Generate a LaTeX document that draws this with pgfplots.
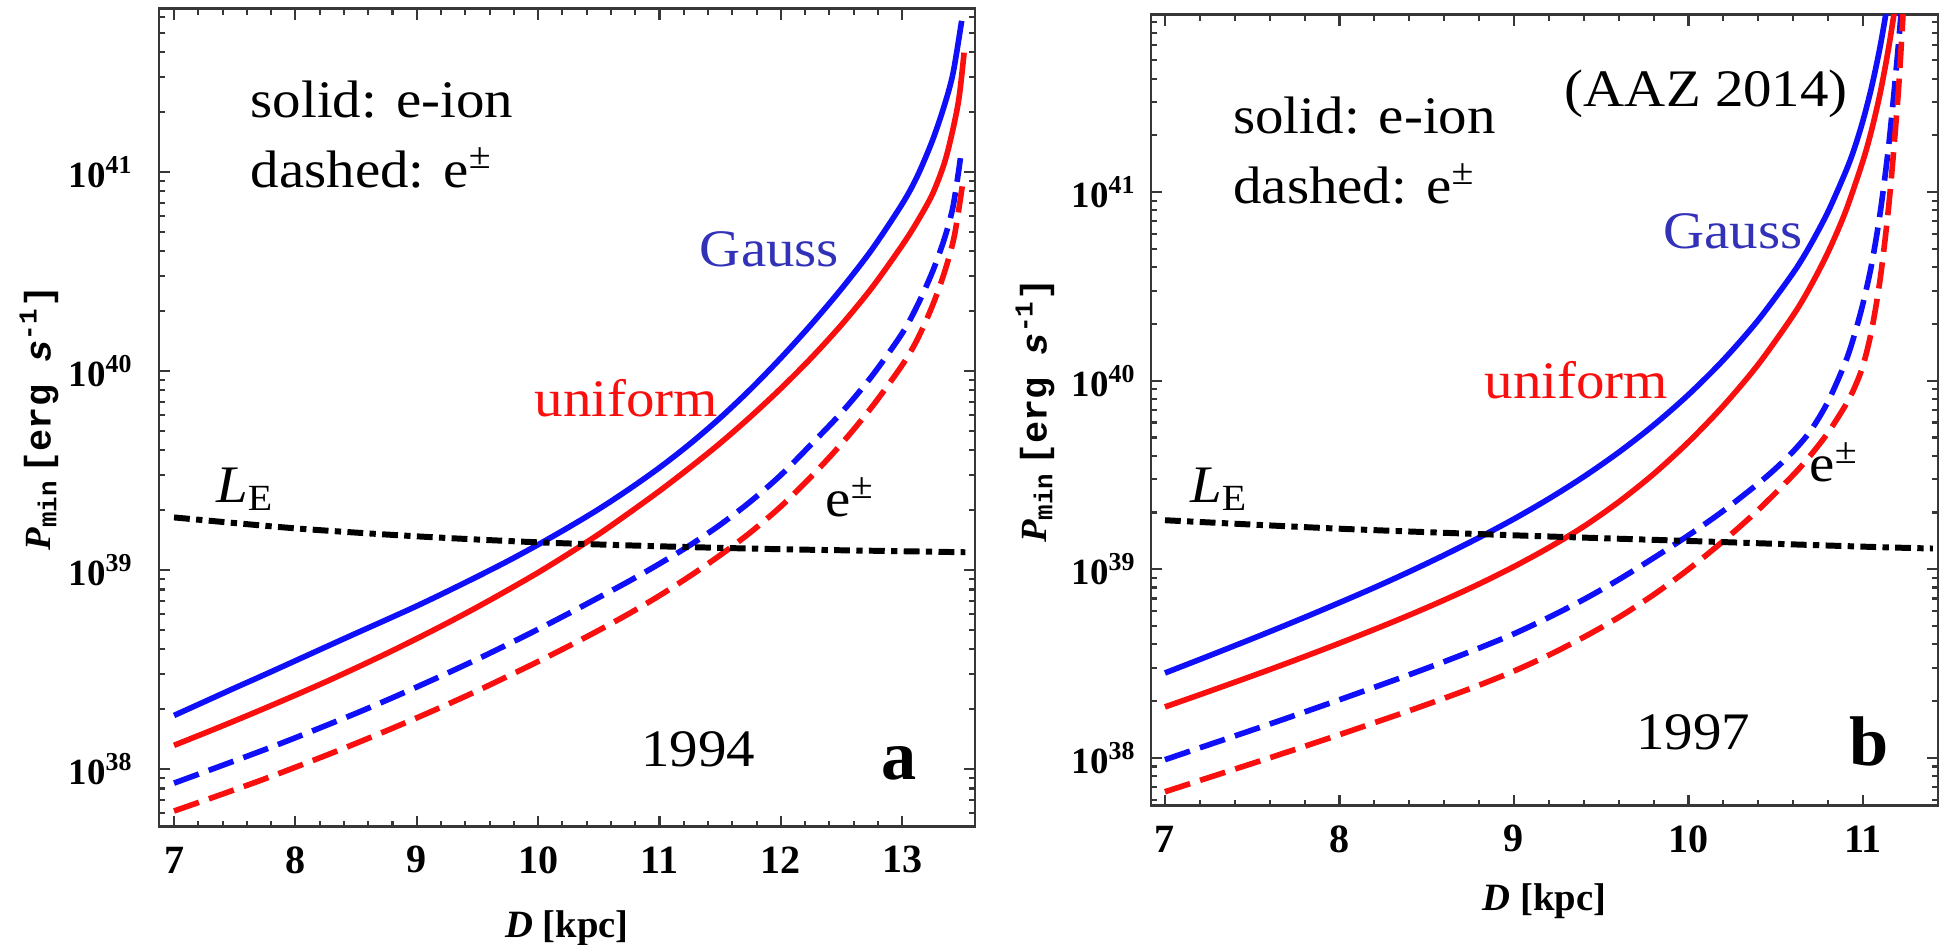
\documentclass[border=0pt]{standalone}
\usepackage{fontspec}
\setmainfont{Liberation Serif}
\setmonofont{Liberation Mono}
\newfontfamily\annfont[FakeStretch=1.08]{Liberation Serif}
\usepackage{pgfplots}
\pgfplotsset{compat=1.18}
\definecolor{lblue}{RGB}{15,15,250}
\definecolor{lred}{RGB}{250,15,15}
\definecolor{gtext}{RGB}{50,50,185}
\definecolor{framec}{RGB}{55,55,55}

\tikzset{
  dshp/.style={dash pattern=on 7.5pt off 3pt},
  ledp/.style={black, line width=1.7pt, dash pattern=on 4.5pt off 1.8pt on 1.8pt off 1.8pt},
  annp/.style={anchor=base west, inner sep=0pt, font=\annfont\fontsize{15}{17}\selectfont},
  bigl/.style={anchor=base west, inner sep=0pt, font=\fontsize{20}{22}\selectfont\bfseries},
}

\begin{document}
\begin{tikzpicture}[x=1cm,y=1cm]
\useasboundingbox (0,0) rectangle (19.46,9.45);

% ---------------- panel a ----------------
\begin{axis}[
  scale only axis,
  at={(1.59cm,1.18cm)}, anchor=south west,
  width=8.16cm, height=8.18cm,
  axis line style={framec, line width=0.8pt},
  every tick/.style={framec, line width=0.6pt},
  major tick length=0.11cm,
  minor tick length=0.06cm,
  tick align=inside,
  ymode=log,
  xmin=6.876, xmax=13.6,
  ymin=5.13e37, ymax=6.607e41,
  xtick={7,8,9,10,11,12,13},
  xticklabels={7,8,9,10,11,12,13},
  minor x tick num=4,
  ytick={1e38,1e39,1e40,1e41},
  yticklabels={10\textsuperscript{38},10\textsuperscript{39},10\textsuperscript{40},10\textsuperscript{41}},
  minor ytick={6e37,7e37,8e37,9e37,2e38,3e38,4e38,5e38,6e38,7e38,8e38,9e38,2e39,3e39,4e39,5e39,6e39,7e39,8e39,9e39,2e40,3e40,4e40,5e40,6e40,7e40,8e40,9e40,2e41,3e41,4e41,5e41,6e41},
  xticklabel style={font=\fontsize{11.4}{13}\selectfont\bfseries, anchor=center, inner sep=0pt, yshift=-0.33cm},
  yticklabel style={font=\fontsize{10.5}{12}\selectfont\bfseries, anchor=east, inner sep=0pt, xshift=-0.25cm},
  xlabel={{\bfseries\itshape D} {\bfseries [kpc]}},
  ylabel={{\bfseries\itshape P}\textsubscript{\ttfamily\bfseries min}\,{\ttfamily\bfseries [erg\ {\itshape s}\textsuperscript{-1}]}},
  xlabel style={font=\fontsize{11}{13}\selectfont, anchor=center, at={(rel axis cs:0.5,-0.1235)}},
  ylabel style={font=\fontsize{10.5}{12}\selectfont, anchor=center, at={(rel axis cs:-0.147,0.5)}},
]
\addplot[lblue, line width=1.6pt, smooth] coordinates {(7.00,1.862e38)(7.25,2.183e38)(7.50,2.559e38)(7.75,2.992e38)(8.00,3.507e38)(8.25,4.112e38)(8.50,4.819e38)(8.75,5.636e38)(9.00,6.607e38)(9.25,7.816e38)(9.50,9.290e38)(9.75,1.111e39)(10.00,1.343e39)(10.25,1.641e39)(10.50,2.027e39)(10.75,2.553e39)(11.00,3.274e39)(11.25,4.305e39)(11.50,5.821e39)(11.75,8.109e39)(12.00,1.164e40)(12.25,1.714e40)(12.50,2.594e40)(12.75,4.083e40)(13.00,6.918e40)(13.125,9.550e40)(13.25,1.445e41)(13.35,2.188e41)(13.42,3.162e41)(13.49,5.754e41)};
\addplot[lred, line width=1.6pt, smooth] coordinates {(7.00,1.318e38)(7.25,1.517e38)(7.50,1.750e38)(7.75,2.027e38)(8.00,2.355e38)(8.25,2.748e38)(8.50,3.228e38)(8.75,3.811e38)(9.00,4.529e38)(9.25,5.419e38)(9.50,6.531e38)(9.75,7.943e38)(10.00,9.726e38)(10.25,1.208e39)(10.50,1.517e39)(10.75,1.940e39)(11.00,2.500e39)(11.25,3.274e39)(11.50,4.345e39)(11.75,5.902e39)(12.00,8.184e39)(12.25,1.164e40)(12.50,1.710e40)(12.75,2.623e40)(13.00,4.286e40)(13.125,5.649e40)(13.25,7.762e40)(13.35,1.122e41)(13.42,1.660e41)(13.47,2.399e41)(13.51,3.981e41)};
\addplot[lblue, line width=1.6pt, smooth, dshp] coordinates {(7.00,8.511e37)(7.25,9.682e37)(7.50,1.102e38)(7.75,1.256e38)(8.00,1.439e38)(8.25,1.656e38)(8.50,1.910e38)(8.75,2.218e38)(9.00,2.588e38)(9.25,3.034e38)(9.50,3.573e38)(9.75,4.236e38)(10.00,5.047e38)(10.25,6.053e38)(10.50,7.294e38)(10.75,8.810e38)(11.00,1.077e39)(11.25,1.333e39)(11.50,1.691e39)(11.75,2.213e39)(12.00,3.005e39)(12.25,4.286e39)(12.50,6.194e39)(12.75,9.441e39)(13.00,1.549e40)(13.125,2.138e40)(13.25,3.162e40)(13.35,4.677e40)(13.42,6.761e40)(13.48,1.175e41)};
\addplot[lred, line width=1.6pt, smooth, dshp] coordinates {(7.00,6.166e37)(7.25,6.966e37)(7.50,7.888e37)(7.75,8.954e37)(8.00,1.023e38)(8.25,1.172e38)(8.50,1.349e38)(8.75,1.560e38)(9.00,1.811e38)(9.25,2.113e38)(9.50,2.478e38)(9.75,2.930e38)(10.00,3.475e38)(10.25,4.149e38)(10.50,4.988e38)(10.75,6.053e38)(11.00,7.447e38)(11.25,9.333e38)(11.50,1.189e39)(11.75,1.549e39)(12.00,2.089e39)(12.25,2.951e39)(12.50,4.315e39)(12.75,6.607e39)(13.00,1.072e40)(13.125,1.445e40)(13.25,2.138e40)(13.35,3.162e40)(13.43,4.786e40)(13.50,8.913e40)};
\addplot[ledp, smooth] coordinates {(7,1.841e39)(8,1.622e39)(9,1.479e39)(10,1.380e39)(11,1.318e39)(12,1.274e39)(13,1.245e39)(13.52,1.230e39)};

\node[annp] at (rel axis cs:0.1115,0.867) {solid: e-ion};
\node[annp] at (rel axis cs:0.1115,0.782) {dashed: e\textsuperscript{±}};
\node[annp, text=gtext] at (rel axis cs:0.662,0.685) {Gauss};
\node[annp, text=lred] at (rel axis cs:0.4596,0.502) {uniform};
\node[annp] at (rel axis cs:0.0694,0.396) {{\itshape L}\textsubscript{E}};
\node[annp] at (rel axis cs:0.816,0.379) {e\textsuperscript{±}};
\node[annp] at (rel axis cs:0.590,0.0735) {1994};
\node[bigl] at (rel axis cs:0.885,0.0585) {a};
\end{axis}

% ---------------- panel b ----------------
\begin{axis}[
  scale only axis,
  at={(11.51cm,1.39cm)}, anchor=south west,
  width=7.87cm, height=7.91cm,
  axis line style={framec, line width=0.8pt},
  every tick/.style={framec, line width=0.6pt},
  major tick length=0.11cm,
  minor tick length=0.06cm,
  tick align=inside,
  ymode=log,
  xmin=6.92, xmax=11.43,
  ymin=5.56e37, ymax=8.71e41,
  xtick={7,8,9,10,11},
  xticklabels={7,8,9,10,11},
  minor x tick num=4,
  ytick={1e38,1e39,1e40,1e41},
  yticklabels={10\textsuperscript{38},10\textsuperscript{39},10\textsuperscript{40},10\textsuperscript{41}},
  minor ytick={6e37,7e37,8e37,9e37,2e38,3e38,4e38,5e38,6e38,7e38,8e38,9e38,2e39,3e39,4e39,5e39,6e39,7e39,8e39,9e39,2e40,3e40,4e40,5e40,6e40,7e40,8e40,9e40,2e41,3e41,4e41,5e41,6e41,7e41,8e41},
  xticklabel style={font=\fontsize{11.4}{13}\selectfont\bfseries, anchor=center, inner sep=0pt, yshift=-0.33cm},
  yticklabel style={font=\fontsize{10.5}{12}\selectfont\bfseries, anchor=east, inner sep=0pt, xshift=-0.14cm},
  xlabel={{\bfseries\itshape D} {\bfseries [kpc]}},
  ylabel={{\bfseries\itshape P}\textsubscript{\ttfamily\bfseries min}\,{\ttfamily\bfseries [erg\ {\itshape s}\textsuperscript{-1}]}},
  xlabel style={font=\fontsize{11}{13}\selectfont, anchor=center, at={(rel axis cs:0.5,-0.121)}},
  ylabel style={font=\fontsize{10.5}{12}\selectfont, anchor=center, at={(rel axis cs:-0.1474,0.5)}},
]
\addplot[lblue, line width=1.6pt, smooth] coordinates {(7.0,2.818e38)(7.2,3.326e38)(7.4,3.935e38)(7.6,4.666e38)(7.8,5.558e38)(8.0,6.653e38)(8.2,7.998e38)(8.4,9.705e38)(8.6,1.189e39)(8.8,1.472e39)(9.0,1.849e39)(9.2,2.366e39)(9.4,3.097e39)(9.6,4.169e39)(9.8,5.807e39)(10.0,8.434e39)(10.2,1.288e40)(10.4,2.099e40)(10.6,3.732e40)(10.7,5.272e40)(10.8,7.888e40)(10.9,1.279e41)(10.95,1.698e41)(11.0,2.399e41)(11.05,3.631e41)(11.1,6.026e41)(11.15,1.122e42)};
\addplot[lred, line width=1.6pt, smooth] coordinates {(7.0,1.862e38)(7.2,2.163e38)(7.4,2.518e38)(7.6,2.937e38)(7.8,3.443e38)(8.0,4.054e38)(8.2,4.797e38)(8.4,5.714e38)(8.6,6.870e38)(8.8,8.356e38)(9.0,1.033e39)(9.2,1.303e39)(9.4,1.687e39)(9.6,2.275e39)(9.8,3.199e39)(10.0,4.731e39)(10.2,7.361e39)(10.4,1.221e40)(10.6,2.223e40)(10.7,3.177e40)(10.8,4.808e40)(10.9,7.888e40)(11.0,1.468e41)(11.05,2.148e41)(11.1,3.404e41)(11.15,6.054e41)(11.2,1.202e42)};
\addplot[lblue, line width=1.6pt, smooth, dshp] coordinates {(7.0,9.772e37)(7.2,1.130e38)(7.4,1.306e38)(7.6,1.510e38)(7.8,1.750e38)(8.0,2.032e38)(8.2,2.366e38)(8.4,2.760e38)(8.6,3.236e38)(8.8,3.819e38)(9.0,4.549e38)(9.2,5.558e38)(9.4,6.918e38)(9.6,8.810e38)(9.8,1.148e39)(10.0,1.514e39)(10.2,2.042e39)(10.4,2.851e39)(10.5,3.427e39)(10.6,4.217e39)(10.7,5.432e39)(10.8,7.762e39)(10.9,1.259e40)(10.95,1.738e40)(11.0,2.570e40)(11.05,4.169e40)(11.1,7.943e40)(11.15,1.862e41)(11.2,5.623e41)(11.25,1.995e42)};
\addplot[lred, line width=1.6pt, smooth, dshp] coordinates {(7.0,6.607e37)(7.2,7.586e37)(7.4,8.710e37)(7.6,1.000e38)(7.8,1.151e38)(8.0,1.327e38)(8.2,1.535e38)(8.4,1.778e38)(8.6,2.070e38)(8.8,2.427e38)(9.0,2.884e38)(9.2,3.507e38)(9.4,4.365e38)(9.6,5.558e38)(9.8,7.328e38)(10.0,1.000e39)(10.2,1.413e39)(10.4,2.065e39)(10.6,3.162e39)(10.7,4.027e39)(10.8,5.309e39)(10.9,7.413e39)(10.95,9.120e39)(11.0,1.202e40)(11.05,1.862e40)(11.1,3.548e40)(11.15,8.913e40)(11.2,3.162e41)(11.23,8.913e41)(11.25,1.995e42)};
\addplot[ledp, smooth] coordinates {(7,1.820e39)(8,1.641e39)(9,1.514e39)(10,1.413e39)(11,1.318e39)(11.40,1.288e39)};

\node[annp] at (rel axis cs:0.525,0.884) {(AAZ 2014)};
\node[annp] at (rel axis cs:0.1037,0.850) {solid: e-ion};
\node[annp] at (rel axis cs:0.1037,0.762) {dashed: e\textsuperscript{±}};
\node[annp, text=gtext] at (rel axis cs:0.650,0.705) {Gauss};
\node[annp, text=lred] at (rel axis cs:0.423,0.5145) {uniform};
\node[annp] at (rel axis cs:0.049,0.383) {{\itshape L}\textsubscript{E}};
\node[annp] at (rel axis cs:0.836,0.410) {e\textsuperscript{±}};
\node[annp] at (rel axis cs:0.616,0.0708) {1997};
\node[bigl] at (rel axis cs:0.887,0.051) {b};
\end{axis}
\end{tikzpicture}
\end{document}
